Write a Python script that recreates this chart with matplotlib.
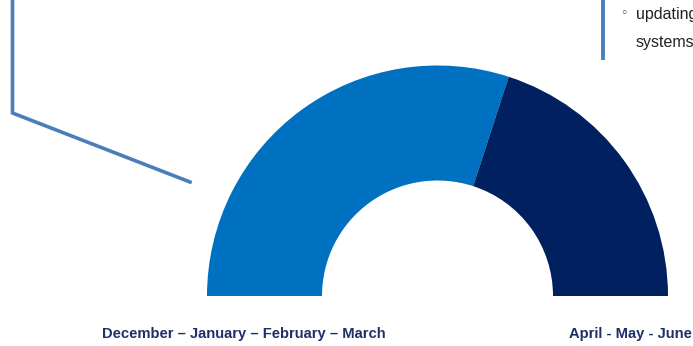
import matplotlib.pyplot as plt

# half donut: share of the year for each period
periods = ["December – January – February – March", "April - May - June"]
shares = [60, 40]
colors = ["#0070C0", "#002060"]

note_lines = ["updating", "systems"]

W, H = 693, 346


def main():
    fig = plt.figure(figsize=(W / 100, H / 100), dpi=100)
    ax = fig.add_axes([0, 0, 1, 1])

    total = sum(shares) * 2  # the pie covers only the top half
    ax.pie([s / total for s in shares], colors=colors, normalize=False,
           startangle=180, counterclock=False, center=(437.5, 50),
           radius=230.5, wedgeprops=dict(width=115, linewidth=0))

    ax.set_xlim(0, W)
    ax.set_ylim(0, H)
    ax.set_aspect("equal")
    ax.axis("off")

    # callout lines
    line_col = "#4A7EBB"
    ax.plot([12.5, 12.5, 190], [H, H - 113, H - 182], color=line_col, lw=2.6,
            solid_joinstyle="miter", clip_on=False)
    ax.plot([603, 603], [H, H - 58], color=line_col, lw=2.8, clip_on=False)

    # note text on the right (cut off at the edge)
    ax.text(624, H - 13, "◦", fontsize=9, color="#333333", va="center",
            ha="center", family="DejaVu Sans")
    ax.text(636, H - 14, note_lines[0], fontsize=11.5, color="#222222",
            va="center", family=["Liberation Sans", "DejaVu Sans"])
    ax.text(636, H - 43, note_lines[1], fontsize=11.5, color="#222222",
            va="center", family=["Liberation Sans", "DejaVu Sans"])

    # period labels
    lab_font = ["Liberation Sans Narrow", "Liberation Sans", "DejaVu Sans"]
    ax.text(244, H - 334, periods[0], fontsize=10.6, fontweight="bold",
            color="#1F3068", ha="center", va="center", family=lab_font)
    ax.text(569, H - 334, periods[1], fontsize=10.6, fontweight="bold",
            color="#1F3068", ha="left", va="center", family=lab_font)

    fig.savefig("out.png", dpi=100)


if __name__ == "__main__":
    main()
